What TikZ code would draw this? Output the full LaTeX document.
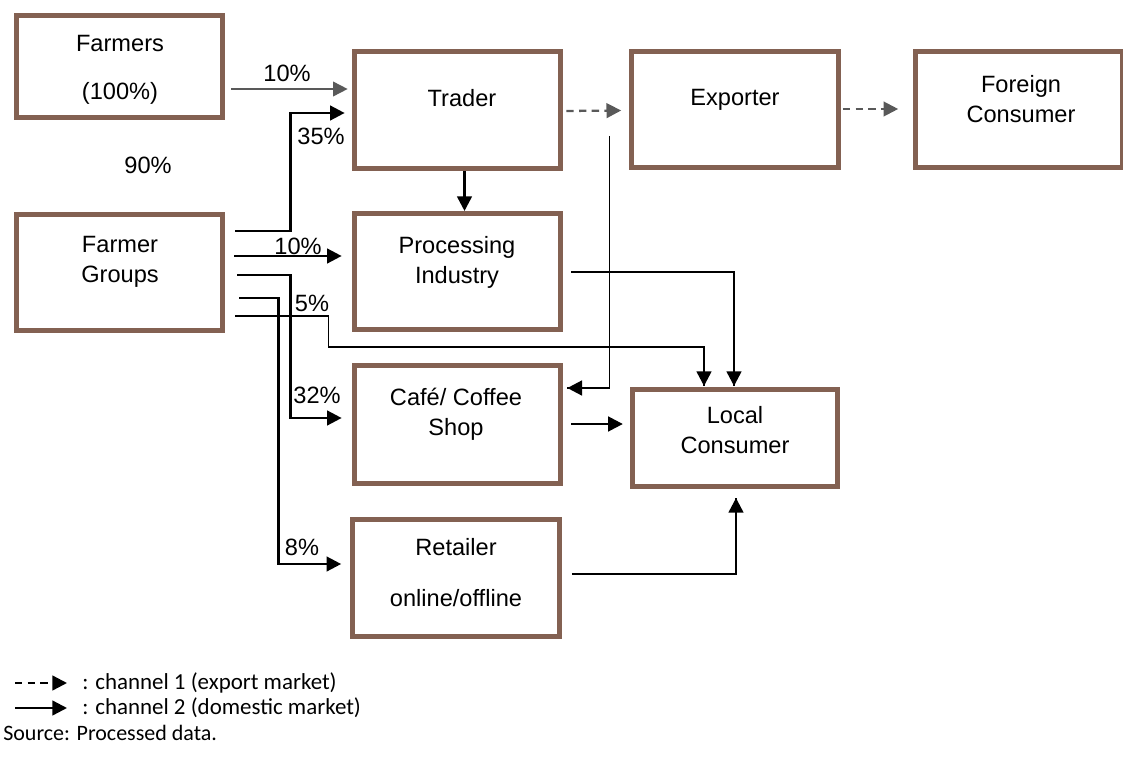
\documentclass[tikz,border=0pt]{standalone}
\usepackage{fontspec}
\setmainfont{Liberation Sans}
\newfontfamily\leyenda{Carlito}
\usetikzlibrary{arrows.meta}
\definecolor{marron}{RGB}{131,97,82}
\definecolor{gris}{RGB}{89,89,89}
\tikzstyle{caja}=[rectangle,draw=marron,line width=3.75pt,inner sep=0pt,minimum width=155pt,minimum height=87pt]
\tikzstyle{texto}=[align=center,inner sep=0pt,font=\fontsize{17.7}{22.5}\selectfont]
\tikzstyle{ley}=[anchor=west,inner sep=0pt,font=\leyenda\fontsize{16.5}{20}\selectfont]
\tikzstyle{punta}=[-{Triangle[length=11pt,width=11pt]}]
\tikzstyle{negra}=[punta,black,line width=1.9pt]
\tikzstyle{fina}=[black,line width=0.9pt]
\tikzstyle{grisflecha}=[punta,gris,line width=1.3pt]
\tikzstyle{grisdash}=[punta,gris,line width=1.7pt,dash pattern=on 5.5pt off 4pt]

\begin{document}
\begin{tikzpicture}[x=0.75pt,y=-0.75pt]
		\useasboundingbox (0,0) rectangle (1123,756);
		\clip (0,0) rectangle (1123,756);
		% cajas
		\node (farmers) at (119.5,66.5) [caja,minimum height=76.5pt] {};
		\node (groups) at (119.5,272.5) [caja] {};
		\node (trader) at (457.5,110) [caja,minimum height=87.75pt] {};
		\node (proc) at (457.5,271.5) [caja] {};
		\node (cafe) at (457.5,424.5) [caja,minimum height=88.5pt] {};
		\node (retail) at (456,578) [caja,minimum height=87.75pt] {};
		\node (local) at (735,438) [caja,minimum width=154pt,minimum height=72.75pt] {};
		\node (exporter) at (735,109.5) [caja] {};
		\node (foreign) at (1019,109.5) [caja] {};
		
		% textos
		\node (tfarmers) at (120,43) [texto] {Farmers};
		\node (tcien) at (120,93) [texto] {(100\%)};
		\node (tnoventa) at (148,165) [texto] {90\%};
		\node (tgroups) at (120,262) [texto] {Farmer\\Groups};
		\node (ttrader) at (462,98) [texto] {Trader};
		\node (tproc) at (457,262) [texto] {Processing\\Industry};
		\node (tcafe) at (456,414) [texto] {Café/ Coffee\\Shop};
		\node (tlocal) at (735,430) [texto] {Local\\Consumer};
		\node (tretail) at (456,547) [texto] {Retailer};
		\node (tonline) at (456,598) [texto] {online/offline};
		\node (texporter) at (735,100) [texto] {Exporter};
		\node (tforeign) at (1021,99.5) [texto] {Foreign\\Consumer};
		
		% porcentajes
		\node (p10a) at (287,73) [texto] {10\%};
		\node (p35) at (321,136) [texto] {35\%};
		\node (p10b) at (298,246) [texto] {10\%};
		\node (p5) at (312,303) [texto] {5\%};
		\node (p32) at (317,395) [texto] {32\%};
		\node (p8) at (302,547) [texto] {8\%};
		
		% canal 1
		\draw [grisdash] ([shift={(3,1)}]trader.east)--([shift={(-8,1)}]exporter.west);
		\draw [grisdash] ([shift={(2,-0.5)}]exporter.east)--([shift={(-15,-0.5)}]foreign.west);
		
		% canal 2
		\draw [grisflecha] ([shift={(6,22.5)}]farmers.east)--([shift={(-4,-21)}]trader.west);
		\draw [negra] ([shift={(10,-41.5)}]groups.east)-- ++(55,0) |- ([shift={(-7,3)}]trader.west);
		\draw [negra] ([shift={(9,-16.5)}]groups.east)--([shift={(-10,-15.5)}]proc.west);
		\draw [negra] ([shift={(12,2.5)}]groups.east)-- ++(53,0) |- ([shift={(-10,-6.5)}]cafe.west);
		\draw [negra] ([shift={(14,25.5)}]groups.east)-- ++(39,0) |- ([shift={(-9,-14)}]retail.west);
		\draw [fina] ([shift={(10,43.5)}]groups.east)-- ++(93,0)-- ++(0,31) -| coordinate[pos=0.5] (c5) ([shift={(-31,-1)}]local.north);
		\draw [negra] (c5)--([shift={(-31,-1)}]local.north);
		\draw [negra] ([shift={(7,0)}]trader.south)--([shift={(7,0)}]proc.north);
		\draw [fina] ([shift={(46,26)}]trader.east) |- coordinate[pos=0.5] (ct) ([shift={(4,-36.5)}]cafe.east);
		\draw [negra] (ct)--([shift={(4,-36.5)}]cafe.east);
		\draw [fina] ([shift={(8,0.5)}]proc.east) -| coordinate[pos=0.5] (cp) ([shift={(-1,-1)}]local.north);
		\draw [negra] (cp)--([shift={(-1,-1)}]local.north);
		\draw [negra] ([shift={(8,-0.5)}]cafe.east)--([shift={(-7,-14)}]local.west);
		\draw [fina] ([shift={(10,-4)}]retail.east) -| coordinate[pos=0.5] (cr) ([shift={(1,9)}]local.south);
		\draw [negra] (cr)--([shift={(1,9)}]local.south);
		
		% leyenda
		\coordinate (l1a) at (15,683);
		\coordinate (l1b) at (67,683);
		\coordinate (l2a) at (15,708);
		\coordinate (l2b) at (67,708);
		\draw [punta,black,line width=1.8pt,dash pattern=on 5.5pt off 4pt] (l1a)--(l1b);
		\draw [punta,black,line width=1.8pt] (l2a)--(l2b);
		\node (ley1) at (82,683) [ley,font=\leyenda\fontsize{17.2}{20}\selectfont] {: channel 1 (export market)};
		\node (ley2) at (82,708) [ley,font=\leyenda\fontsize{17.2}{20}\selectfont] {: channel 2 (domestic market)};
		\node (fuente) at (3,733) [ley] {Source: Processed data.};
\end{tikzpicture}
\end{document}
